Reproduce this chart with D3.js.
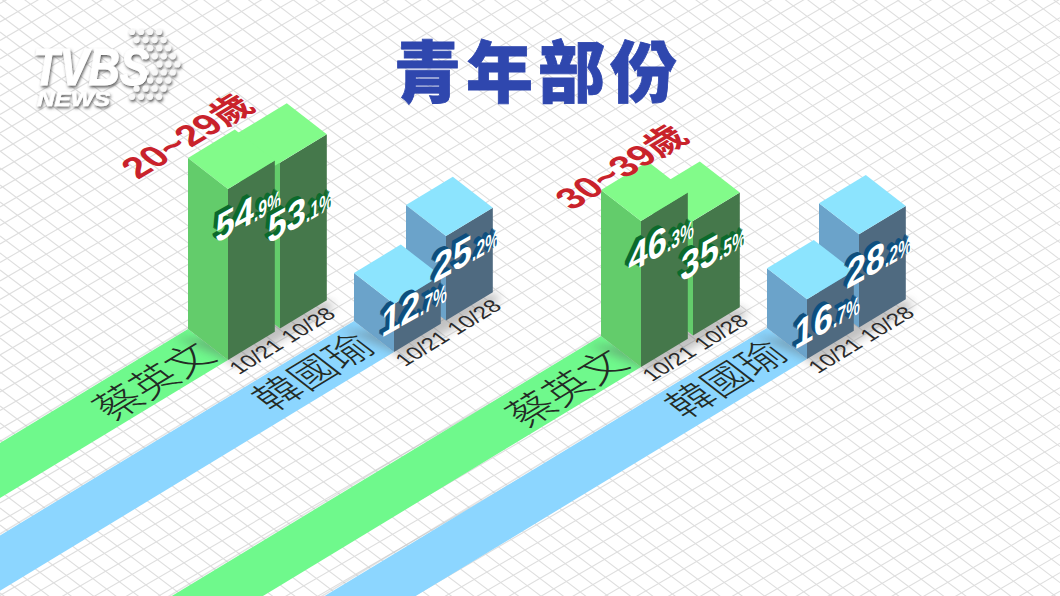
<!DOCTYPE html>
<html>
<head>
<meta charset="utf-8">
<script src="https://cdn.jsdelivr.net/npm/d3@7"></script>
<style>
html,body{margin:0;padding:0;background:#fff;overflow:hidden}
svg{display:block}
</style>
</head>
<body>
<div id="chart"></div>
<script>
// ---- data ----
const chartTitle = "青年部份";
const ageGroups = ["20~29歲", "30~39歲"];
const candidates = ["蔡英文", "韓國瑜"];
const dates = ["10/21", "10/28"];
const tsai = [[54.9, 53.1], [46.3, 35.5]];
const han = [[12.7, 25.2], [16.7, 28.2]];

// ---- layout ----
const W = 1060, H = 596;
const origin = [228, 360], groupStep = [413, 7], candStep = [166, -8], dateStep = [52, -31.5];
const faceRatio = 0.9, depth = [40, 31];
const palette = [
  {ribbon:"#6ff98c", top:"#82fb8a", left:"#63cc6b", right:"#45784b", ext:"#0b6a2c"},
  {ribbon:"#8cd6ff", top:"#8ce4fe", left:"#6ba3ca", right:"#4f6a80", ext:"#0d4f7e"}
];
const labelLift = [[[116, 84], [14, 37]], [[93, 53], [9, 38]]];
const ageAnchor = [[138, 180], [572, 211]];
const nameCentre = [[154, 381], [313, 372]];

const heightScale = d3.scaleLinear().domain([0, 60]).range([11, 186]);
const add = (a, b, k = 1) => [a[0] + b[0] * k, a[1] + b[1] * k];
const base = (g, c, d) => [
  origin[0] + g * groupStep[0] + c * candStep[0] + d * dateStep[0],
  origin[1] + g * groupStep[1] + c * candStep[1] + d * dateStep[1]
];
const poly = d3.line().curve(d3.curveLinearClosed);
const face = [dateStep[0] * faceRatio, dateStep[1] * faceRatio];

const len = v => Math.hypot(v[0], v[1]);
const ux = [dateStep[0] / len(dateStep), dateStep[1] / len(dateStep)];
const vx = [depth[0] / len(depth), depth[1] / len(depth)];
const groundM = (p) => `matrix(${ux[0]} ${ux[1]} ${vx[0]} ${vx[1]} ${p[0]} ${p[1]})`;

const svg = d3.select("#chart").append("svg").attr("width", W).attr("height", H)
  .attr("viewBox", `0 0 ${W} ${H}`);
const defs = svg.append("defs");
defs.append("filter").attr("id", "soft").attr("x", "-40%").attr("y", "-40%").attr("width", "180%").attr("height", "180%")
  .append("feGaussianBlur").attr("stdDeviation", 5);
const ls = defs.append("filter").attr("id", "logoShadow").attr("x", "-20%").attr("y", "-30%").attr("width", "140%").attr("height", "160%");
ls.append("feDropShadow").attr("dx", 1).attr("dy", 2).attr("stdDeviation", 1.5).attr("flood-color", "#444").attr("flood-opacity", 0.85);

// background grid
const grid = svg.append("g").attr("stroke", "#dedede").attr("stroke-width", 1.1).attr("fill", "none");
const slopeA = -0.58, slopeB = 0.76, spacingA = 18.5, spacingB = 17;
d3.range(577 % spacingA, H + W, spacingA).forEach(c => grid.append("line").attr("x1", 0).attr("y1", c).attr("x2", W).attr("y2", c + slopeA * W));
d3.range(-733 - 20 * spacingB, H, spacingB).forEach(c => grid.append("line").attr("x1", 0).attr("y1", c).attr("x2", W).attr("y2", c + slopeB * W));

// ribbons
const gRib = svg.append("g");
ageGroups.forEach((_, g) => candidates.forEach((_, c) => {
  const front = base(g, c, 0), left = add(front, depth, -1);
  const far = 18;
  gRib.append("line")
    .attr("x1", left[0]).attr("y1", left[1] - 1.5)
    .attr("x2", add(left, dateStep, -far)[0]).attr("y2", add(left, dateStep, -far)[1] - 1.5)
    .attr("stroke", "#bbb").attr("stroke-width", 1.5).attr("opacity", 0.4);
  gRib.append("path")
    .attr("d", poly([left, front, add(front, dateStep, -far), add(left, dateStep, -far)]))
    .attr("fill", palette[c].ribbon);
}));

// bars, shadows, labels
const gBars = svg.append("g");
ageGroups.forEach((_, g) => candidates.forEach((_, c) => {
  const vals = c === 0 ? tsai[g] : han[g];
  const col = palette[c];
  const f0 = base(g, c, 0), r1 = add(base(g, c, 1), face);
  // floor shadow
  gBars.append("path").attr("filter", "url(#soft)").attr("fill", "#555").attr("opacity", 0.36)
    .attr("d", poly([add(f0, depth, -0.7), add(add(f0, depth, -1), face, -0.3), f0, add(f0, depth, 0.22), add(r1, depth, 0.22), r1]));
  // rear bar first so the front one overlaps it
  d3.range(dates.length - 1, -1, -1).forEach(d => {
    const h = heightScale(vals[d]);
    const F = base(g, c, d), L = add(F, depth, -1), R = add(F, face);
    const up = p => [p[0], p[1] - h];
    gBars.append("path").attr("fill", col.left).attr("d", poly([L, F, up(F), up(L)]));
    gBars.append("path").attr("fill", col.right).attr("d", poly([F, R, up(R), up(F)]));
    // the rear roof runs under a taller neighbour, so the two roofs read as one
    const reach = (d === 1 && vals[0] > vals[1]) ? (1 - faceRatio) : 0;
    const rF = add(up(F), dateStep, -reach), rL = add(up(L), dateStep, -reach);
    gBars.append("path").attr("fill", col.top).attr("d", poly([rF, up(R), add(up(R), depth, -1), rL]));
  });
}));

const gText = svg.append("g");
ageGroups.forEach((age, g) => {
  // age caption
  gText.append("text").attr("transform", groundM(ageAnchor[g]))
    .attr("font-family", "'Liberation Sans','Noto Sans CJK TC',sans-serif").attr("font-weight", 700)
    .attr("font-size", 36.5).attr("fill", "#c9222b").text(age);
  candidates.forEach((name, c) => {
    // candidate name lying on ribbon
    const ctr = [nameCentre[c][0] + g * groupStep[0], nameCentre[c][1] + g * groupStep[1]];
    gText.append("text").attr("transform", groundM(ctr))
      .attr("text-anchor", "middle").attr("dy", "0.36em")
      .attr("font-family", "'Noto Sans CJK TC',sans-serif").attr("font-weight", 300)
      .attr("font-size", 41).attr("fill", "#232b25").text(name);
    dates.forEach((dt, d) => {
      const F = base(g, c, d);
      // date
      gText.append("text").attr("transform", groundM(add(F, [11, 15])))
        .attr("font-family", "'Liberation Sans',sans-serif")
        .attr("font-size", 21.5).attr("fill", "#2a2a2a").text(dt);
    });
  });
});
// percentage labels on top of everything
const bigSize = 40, smallSize = 25;
ageGroups.forEach((_, g) => candidates.forEach((_, c) => {
  const vals = c === 0 ? tsai[g] : han[g];
  dates.forEach((_, d) => {
    const F = base(g, c, d);
    const p = [F[0] - 13, F[1] - labelLift[g][c][d]];
    const s = String(vals[d].toFixed(1)), dot = s.indexOf(".");
    const ext = palette[c].ext;
    const layers = [[-4, -2.8, ext], [-3, -2.1, ext], [-2, -1.4, ext], [-1, -0.7, ext], [0, 0, "#fff"]];
    layers.forEach(([dx, dy, fill]) => {
      const t = gText.append("g")
        .attr("transform", `matrix(0.87 -0.49 -0.04 1 ${p[0] + dx} ${p[1] + dy})`)
        .attr("font-family", "'Liberation Sans',sans-serif").attr("font-weight", 700).attr("fill", fill);
      t.append("text").attr("font-size", bigSize).text(s.slice(0, dot));
      t.append("text").attr("font-size", smallSize)
        .attr("transform", `translate(${dot * 0.556 * bigSize} 0) scale(0.72 1)`)
        .text(s.slice(dot) + "%");
    });
  });
}));

// title
svg.append("text").attr("x", 538).attr("y", 97).attr("text-anchor", "middle")
  .attr("font-family", "'Noto Sans CJK TC',sans-serif").attr("font-weight", 900)
  .attr("font-size", 67).attr("letter-spacing", 5).attr("fill", "#2f47ae")
  .attr("stroke", "#2f47ae").attr("stroke-width", 0.8).text(chartTitle);

// broadcaster logo
const logo = svg.append("g").attr("filter", "url(#logoShadow)").attr("fill", "#fff");
d3.range(9).forEach(r => {
  const shift = (4 - Math.abs(r - 4)) * 4.6;
  d3.range(r === 4 ? 3 : 4).forEach(i => {
    logo.append("circle").attr("cx", 132 + shift + i * 9 + (r === 4 ? 9 : 0)).attr("cy", 32 + r * 8.1).attr("r", 3.1).attr("fill", "#f8f8f8");
  });
});
logo.append("text").attr("x", 33).attr("y", 85).attr("font-family", "'Liberation Sans',sans-serif")
  .attr("font-weight", 700).attr("font-style", "italic").attr("font-size", 51)
  .attr("stroke", "#fff").attr("stroke-width", 1)
  .attr("textLength", 116).attr("lengthAdjust", "spacingAndGlyphs").text("TVBS");
logo.append("text").attr("x", 37).attr("y", 106).attr("font-family", "'Liberation Sans',sans-serif")
  .attr("font-weight", 700).attr("font-style", "italic").attr("font-size", 21)
  .attr("stroke", "#fff").attr("stroke-width", 0.6)
  .attr("textLength", 73).attr("lengthAdjust", "spacingAndGlyphs").text("NEWS");
</script>
</body>
</html>
